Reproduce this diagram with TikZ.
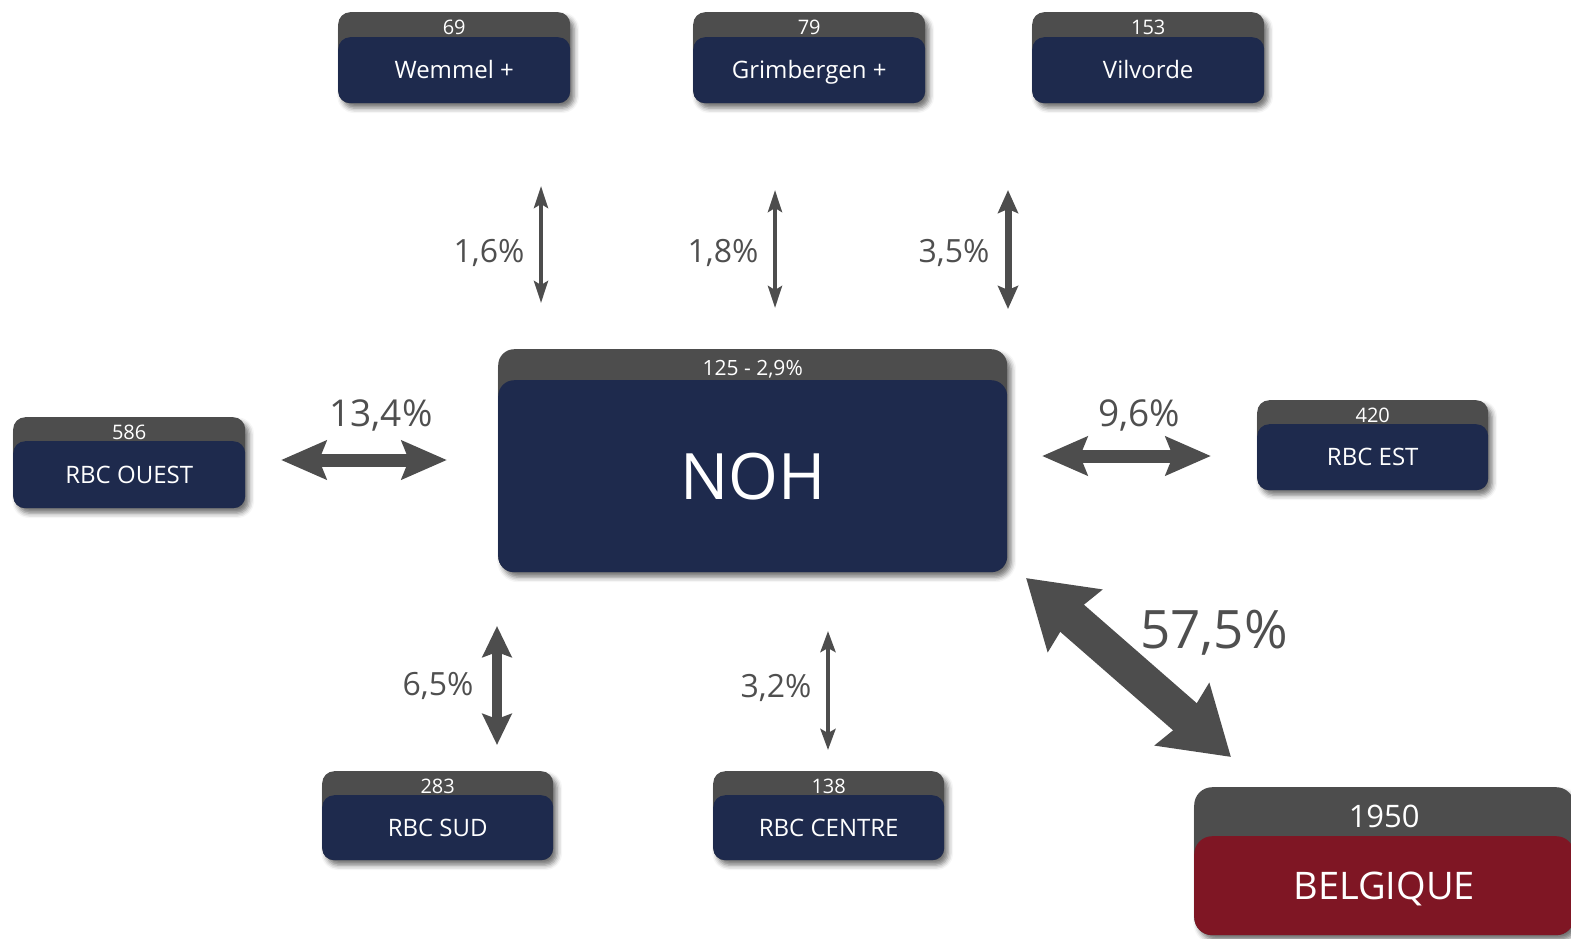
\documentclass[tikz,border=0pt]{standalone}
\usepackage{fontspec}
\setmainfont{Open Sans}
\usetikzlibrary{arrows.meta,shadows.blur,calc}
\definecolor{navy}{HTML}{1E2A4D}
\definecolor{hdrgray}{HTML}{4D4D4D}
\definecolor{belred}{HTML}{7F1624}
\definecolor{arrgray}{HTML}{4D4D4D}
\definecolor{lblgray}{HTML}{4F4F4F}
\newcommand\regbox[9]{%
  \node[hdrbox, minimum width=#4pt, minimum height=#5pt] (#1) at (#2,#3) {};
  \node[bodybox, fill=#9, minimum width=#4pt, minimum height={#5-#6}] (#1-b) at (#1.south west) {#8};
  \node[numtxt] (#1-n) at ($(#1.north)!0.5!(#1-b.north)$) {#7};
}
\begin{document}
\begin{tikzpicture}[x=1pt,y=-1pt,
  hdrbox/.style={fill=hdrgray, rounded corners=12pt, inner sep=0pt, anchor=north west,
    blur shadow={shadow xshift=4pt, shadow yshift=-5pt, shadow blur radius=5pt, shadow opacity=55}},
  bodybox/.style={rounded corners=12pt, inner sep=0pt, anchor=south west, text=white,
    font=\fontsize{24}{24}\selectfont, text height=17pt, text depth=0pt},
  numtxt/.style={text=white, font=\fontsize{20}{20}\selectfont, text height=14pt, text depth=0pt,
    inner sep=0pt, yshift=-3pt},
  pct/.style={text=lblgray, inner sep=0pt, text depth=0pt},
  arr/.style={draw=arrgray, line width=#1},
]
\clip (0,0) rectangle (1571,938);

% region boxes
\regbox{wem}{338}{12}{232}{91}{25}{69}{Wemmel +}{navy}
\regbox{gri}{693}{12}{232}{91}{25}{79}{Grimbergen +}{navy}
\regbox{vil}{1032}{12}{232}{91}{25}{153}{Vilvorde}{navy}
\regbox{oue}{13}{417}{232}{91}{24}{586}{RBC OUEST}{navy}
\regbox{est}{1257}{400}{231}{90}{24}{420}{RBC EST}{navy}
\regbox{sud}{322}{771}{231}{89}{24}{283}{RBC SUD}{navy}
\regbox{cen}{713}{771}{231}{89}{24}{138}{RBC CENTRE}{navy}

% NOH
\node[hdrbox, rounded corners=16pt, minimum width=509pt, minimum height=223pt] (noh) at (498,349) {};
\node[bodybox, fill=navy, rounded corners=16pt, minimum width=509pt, minimum height=192pt,
  font=\fontsize{64}{64}\selectfont, text height=46pt] (noh-b) at (noh.south west) {NOH};
\node[numtxt, font=\fontsize{21}{21}\selectfont, text height=15pt] (noh-n) at ($(noh.north)!0.5!(noh-b.north)$) {125 - 2,9\%};

% BELGIQUE
\node[hdrbox, rounded corners=18pt, minimum width=380pt, minimum height=148pt] (bel) at (1194,787) {};
\node[bodybox, fill=belred, rounded corners=18pt, minimum width=380pt, minimum height=99pt,
  font=\fontsize{38}{38}\selectfont, text height=27pt] (bel-b) at (bel.south west) {BELGIQUE};
\node[numtxt, font=\fontsize{31}{31}\selectfont, text height=22pt, yshift=-2pt] (bel-n) at ($(bel.north)!0.5!(bel-b.north)$) {1950};

% arrow end points
\coordinate (a1s) at (541,186); \coordinate (a1e) at (541,303);
\coordinate (a2s) at (775,190); \coordinate (a2e) at (775,308);
\coordinate (a3s) at (1008,190); \coordinate (a3e) at (1008,309);
\coordinate (a4s) at (281,460); \coordinate (a4e) at (447,460);
\coordinate (a5s) at (1042,456); \coordinate (a5e) at (1211,456);
\coordinate (a6s) at (497,626); \coordinate (a6e) at (497,745);
\coordinate (a7s) at (828,631); \coordinate (a7e) at (828,750);
\coordinate (a8s) at (1026,578); \coordinate (a8e) at (1231,757);

\draw[arr=4pt, {Stealth[length=22pt,width=14pt,inset=4pt]}-{Stealth[length=22pt,width=14pt,inset=4pt]}] (a1s) -- (a1e);
\draw[arr=4pt, {Stealth[length=22pt,width=14pt,inset=4pt]}-{Stealth[length=22pt,width=14pt,inset=4pt]}] (a2s) -- (a2e);
\draw[arr=7pt, {Stealth[length=23pt,width=20pt,inset=4pt]}-{Stealth[length=23pt,width=20pt,inset=4pt]}] (a3s) -- (a3e);
\draw[arr=13pt, {Stealth[length=45pt,width=38pt,inset=7pt]}-{Stealth[length=45pt,width=38pt,inset=7pt]}] (a4s) -- (a4e);
\draw[arr=13pt, {Stealth[length=45pt,width=38pt,inset=7pt]}-{Stealth[length=45pt,width=38pt,inset=7pt]}] (a5s) -- (a5e);
\draw[arr=10pt, {Stealth[length=31pt,width=29pt,inset=5pt]}-{Stealth[length=31pt,width=29pt,inset=5pt]}] (a6s) -- (a6e);
\draw[arr=4pt, {Stealth[length=21pt,width=15pt,inset=4pt]}-{Stealth[length=21pt,width=15pt,inset=4pt]}] (a7s) -- (a7e);
\draw[arr=36pt, {Stealth[length=64pt,width=80pt,inset=6pt]}-{Stealth[length=64pt,width=80pt,inset=6pt]}] (a8s) -- (a8e);

% percentage labels
\node[pct, font=\fontsize{32}{32}\selectfont, text height=23pt] (l1) at (489,251) {1,6\%};
\node[pct, font=\fontsize{32}{32}\selectfont, text height=23pt] (l2) at (723,251) {1,8\%};
\node[pct, font=\fontsize{32}{32}\selectfont, text height=23pt] (l3) at (954,251) {3,5\%};
\node[pct, font=\fontsize{37}{37}\selectfont, text height=27pt] (l4) at (381,413) {13,4\%};
\node[pct, font=\fontsize{37}{37}\selectfont, text height=27pt] (l5) at (1139,413) {9,6\%};
\node[pct, font=\fontsize{32}{32}\selectfont, text height=23pt] (l6) at (438,684) {6,5\%};
\node[pct, font=\fontsize{32}{32}\selectfont, text height=23pt] (l7) at (776,686) {3,2\%};
\node[pct, font=\fontsize{53}{53}\selectfont, text height=38pt] (l8) at (1214,629) {57,5\%};
\end{tikzpicture}
\end{document}
